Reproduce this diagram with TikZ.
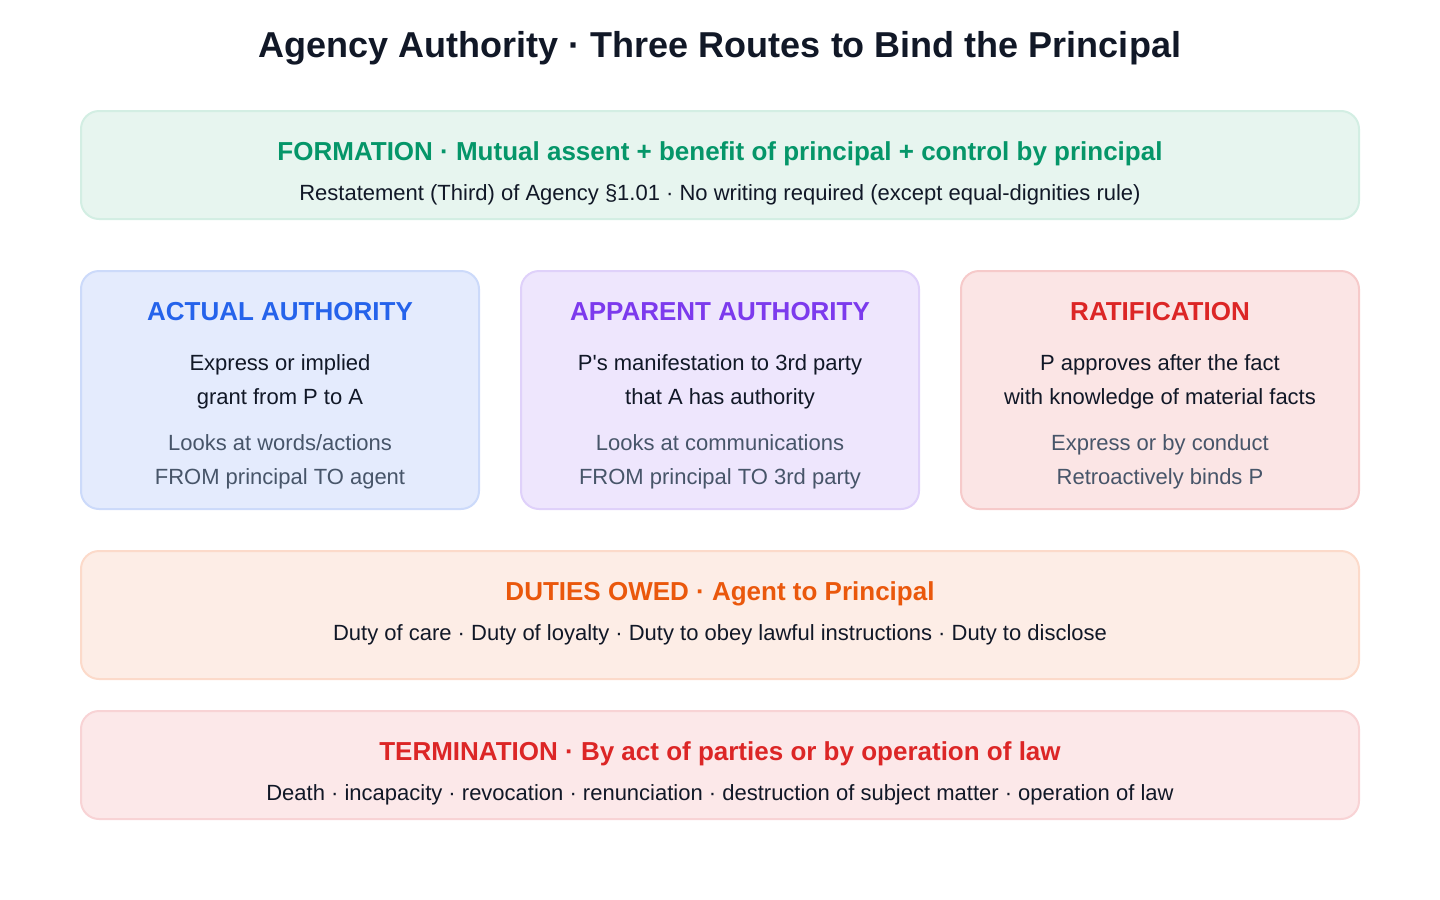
\documentclass[tikz,border=0pt]{standalone}
\usepackage{fontspec}
\setmainfont{Liberation Sans}
\usepackage{xcolor}
\usetikzlibrary{positioning}

\begin{document}
\begin{tikzpicture}[x=0.75pt, y=-0.75pt,
    panel/.style={draw, rounded corners=13.5pt, line width=1.5pt,
      minimum width=298.5pt, minimum height=178.5pt, inner sep=0pt},
  ]
  % Colour definitions -- one pair per panel
  \definecolor{ink}{HTML}{111827}
  \definecolor{muted}{HTML}{475569}
  \definecolor{FMtext}{HTML}{059669}
  \definecolor{FMfill}{HTML}{E7F5EF}
  \definecolor{FMbdr}{HTML}{D3EEE3}
  \definecolor{ACtext}{HTML}{2563EB}
  \definecolor{ACfill}{HTML}{E4EBFD}
  \definecolor{ACbdr}{HTML}{CCDAFA}
  \definecolor{APtext}{HTML}{7C3AED}
  \definecolor{APfill}{HTML}{EEE6FD}
  \definecolor{APbdr}{HTML}{DFD1FA}
  \definecolor{RTtext}{HTML}{DC2626}
  \definecolor{RTfill}{HTML}{FBE5E5}
  \definecolor{RTbdr}{HTML}{F6CACA}
  \definecolor{DUtext}{HTML}{EA580C}
  \definecolor{DUfill}{HTML}{FDEDE6}
  \definecolor{DUbdr}{HTML}{FCDACA}
  \definecolor{TMtext}{HTML}{DC2626}
  \definecolor{TMfill}{HTML}{FCE8E9}
  \definecolor{TMbdr}{HTML}{F8D3D5}

  \tikzstyle{head} = [anchor=base, inner sep=0pt,
    font=\fontsize{19.5pt}{23pt}\bfseries]
  \tikzstyle{body} = [anchor=base, inner sep=0pt, text=ink,
    font=\fontsize{16.5pt}{20pt}\selectfont]
  \tikzstyle{note} = [body, text=muted]

  \useasboundingbox (0,0) rectangle (1440,900);

  % Title
  \node[anchor=base, inner sep=0pt, text=ink,
    font=\fontsize{27pt}{32pt}\bfseries] (title) at (720,57)
    {Agency Authority · Three Routes to Bind the Principal};

  % Formation band
  \node[panel, fill=FMfill, draw=FMbdr, minimum width=958.5pt,
    minimum height=81pt] (formation) at (720,165) {};
  \node[head, text=FMtext] (formhead) at (720,160)
    {FORMATION · Mutual assent + benefit of principal + control by principal};
  \node[body] (formsub) at (720,200)
    {Restatement (Third) of Agency §1.01 · No writing required (except equal-dignities rule)};

  % Three routes
  \node[panel, fill=ACfill, draw=ACbdr] (actual) at (280,390) {};
  \node[panel, fill=APfill, draw=APbdr] (apparent) at (720,390) {};
  \node[panel, fill=RTfill, draw=RTbdr] (ratify) at (1160,390) {};

  \node[head, text=ACtext] (acthead) at (280,320) {ACTUAL AUTHORITY};
  \node[body] (act1) at (280,370) {Express or implied};
  \node[body] (act2) at (280,404) {grant from P to A};
  \node[note] (act3) at (280,450) {Looks at words/actions};
  \node[note] (act4) at (280,484) {FROM principal TO agent};

  \node[head, text=APtext] (apphead) at (720,320) {APPARENT AUTHORITY};
  \node[body] (app1) at (720,370) {P\textquotesingle s manifestation to 3rd party};
  \node[body] (app2) at (720,404) {that A has authority};
  \node[note] (app3) at (720,450) {Looks at communications};
  \node[note] (app4) at (720,484) {FROM principal TO 3rd party};

  \node[head, text=RTtext] (rathead) at (1160,320) {RATIFICATION};
  \node[body] (rat1) at (1160,370) {P approves after the fact};
  \node[body] (rat2) at (1160,404) {with knowledge of material facts};
  \node[note] (rat3) at (1160,450) {Express or by conduct};
  \node[note] (rat4) at (1160,484) {Retroactively binds P};

  % Duties band
  \node[panel, fill=DUfill, draw=DUbdr, minimum width=958.5pt,
    minimum height=96pt] (duties) at (720,615) {};
  \node[head, text=DUtext] (dutyhead) at (720,600)
    {DUTIES OWED · Agent to Principal};
  \node[body] (dutysub) at (720,640)
    {Duty of care · Duty of loyalty · Duty to obey lawful instructions · Duty to disclose};

  % Termination band
  \node[panel, fill=TMfill, draw=TMbdr, minimum width=958.5pt,
    minimum height=81pt] (termination) at (720,765) {};
  \node[head, text=TMtext] (termhead) at (720,760)
    {TERMINATION · By act of parties or by operation of law};
  \node[body] (termsub) at (720,800)
    {Death · incapacity · revocation · renunciation · destruction of subject matter · operation of law};
\end{tikzpicture}
\end{document}
